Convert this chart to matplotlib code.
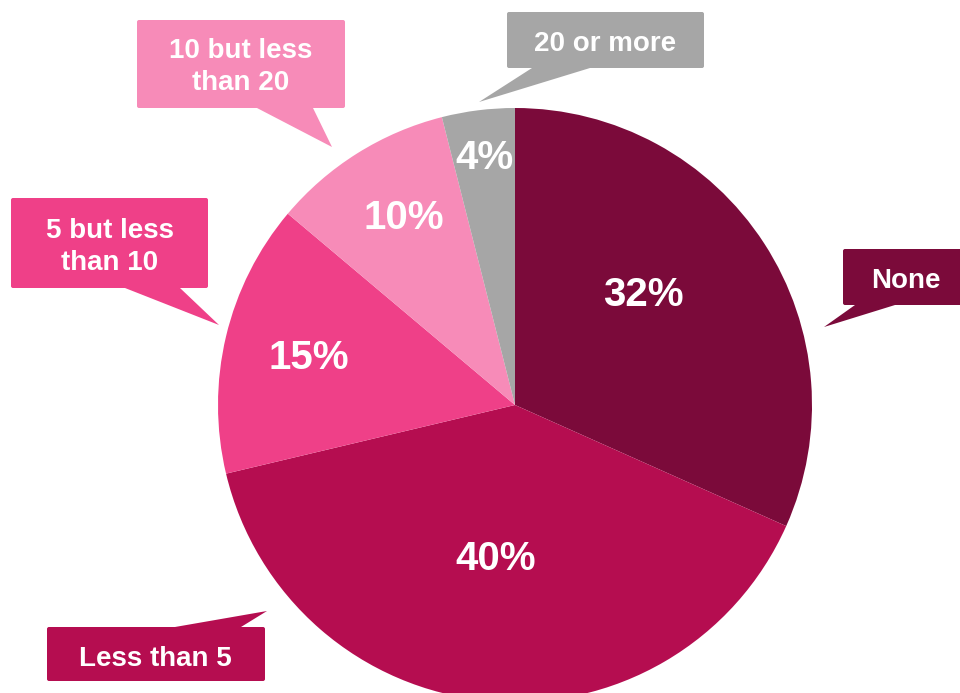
import matplotlib
matplotlib.use("Agg")
import matplotlib.pyplot as plt
from matplotlib.patches import FancyBboxPatch, Polygon

plt.rcParams['font.family'] = ['Liberation Sans', 'DejaVu Sans']

# data
categories = ["None", "Less than 5", "5 but less than 10", "10 but less than 20", "20 or more"]
values = [32, 40, 15, 10, 4]
colors = ["#7B0A3A", "#B50D50", "#EF4088", "#F78BB8", "#A6A6A6"]
callout_text = ["None", "Less than 5", "5 but less\nthan 10", "10 but less\nthan 20", "20 or more"]

W, H = 960, 693

def Y(y):
    # pixel rows from top -> data y
    return H - y

fig = plt.figure(figsize=(W / 100, H / 100), dpi=100)
ax = fig.add_axes([0, 0, 1, 1])

ax.pie(values, colors=colors, startangle=90, counterclock=False,
       center=(515, Y(405)), radius=297, frame=True,
       wedgeprops=dict(linewidth=0))
ax.set_xlim(0, W)
ax.set_ylim(0, H)
ax.set_aspect('equal')
ax.axis('off')

# percent labels inside the slices (pixel positions)
pct_pos = [(643, 295), (496, 559), (309, 358), (404, 218), (485, 158)]
for v, (x, y) in zip(values, pct_pos):
    ax.text(x, Y(y), f"{v}%", color="white", fontsize=29, fontweight="bold",
            ha="center", va="center")

# callouts: box (x0, y0, x1, y1), pointer base x0, x1, base y, tip (x, y)
boxes = [
    (843, 249, 965, 305),
    (47, 627, 265, 681),
    (11, 198, 208, 288),
    (137, 20, 345, 108),
    (507, 12, 704, 68),
]
pointers = [
    ((855, 895), 305, (824, 327)),
    ((175, 241), 627, (267, 611)),
    ((125, 180), 288, (219, 325)),
    ((257, 313), 108, (332, 147)),
    ((532, 590), 68, (479, 102)),
]
text_pos = [(906, 281), (155, 659), (110, 247), (241, 67), (605, 44)]

for txt, c, (x0, y0, x1, y1), (bx, by, tip), (tx, ty) in zip(
        callout_text, colors, boxes, pointers, text_pos):
    ax.add_patch(FancyBboxPatch((x0 + 2, Y(y1) + 2), x1 - x0 - 4, y1 - y0 - 4,
                                boxstyle="round,pad=2", facecolor=c,
                                edgecolor="none"))
    ax.add_patch(Polygon([(bx[0], Y(by)), (bx[1], Y(by)), (tip[0], Y(tip[1]))],
                         closed=True, facecolor=c, edgecolor="none"))
    ax.text(tx, Y(ty), txt, color="white", fontsize=20, fontweight="bold",
            ha="center", va="center", linespacing=1.3)

fig.savefig("out.png", dpi=100)
